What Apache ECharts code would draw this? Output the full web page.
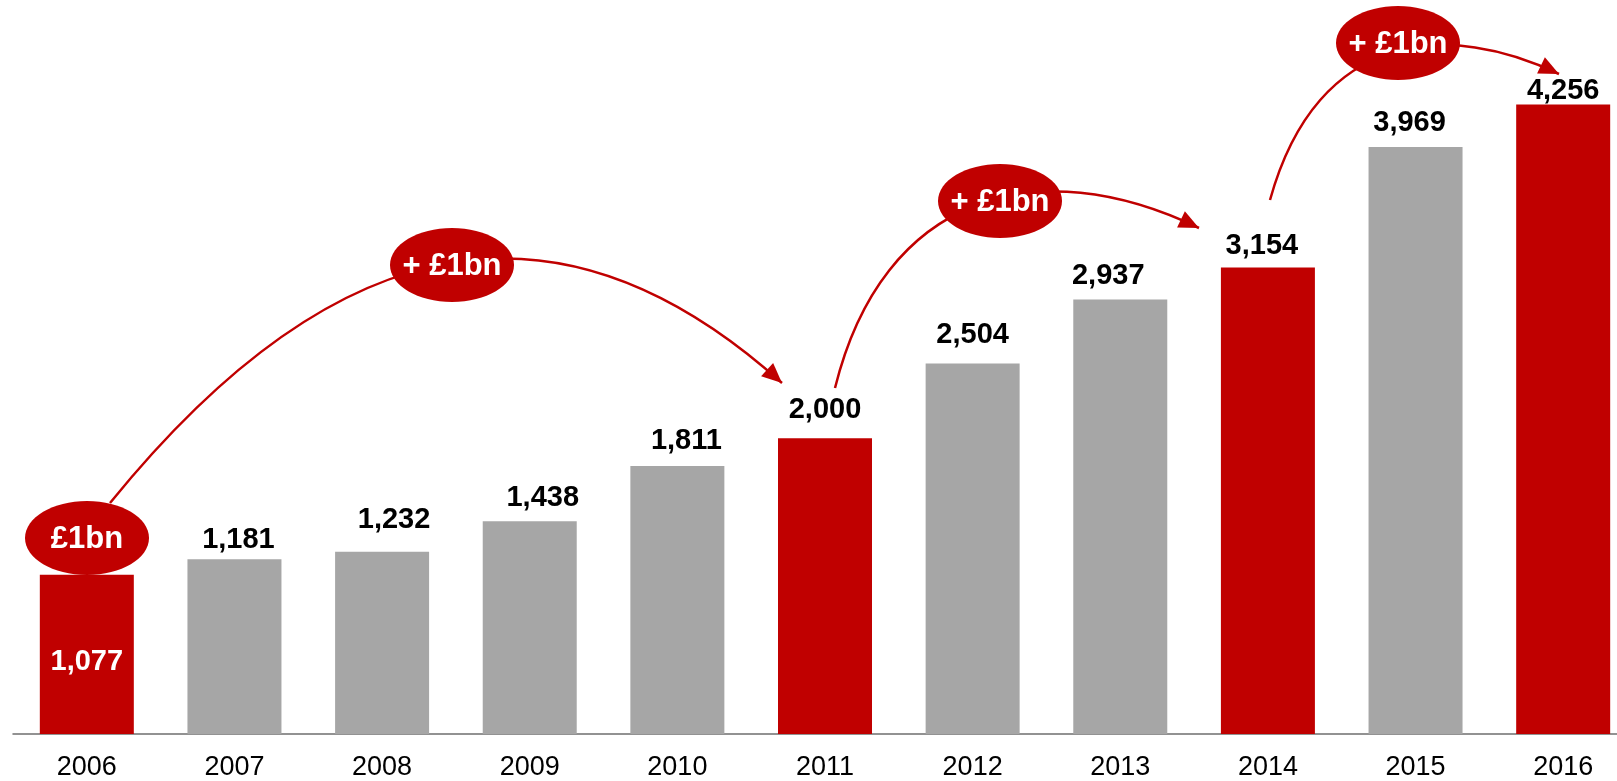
<!DOCTYPE html>
<html>
<head>
<meta charset="utf-8">
<title>Growth</title>
<script src="https://cdn.jsdelivr.net/npm/echarts@6/dist/echarts.min.js"></script>
<style>
html, body { margin: 0; padding: 0; background: #fff; overflow: hidden; }
#bar { width: 1640px; height: 781px; }
</style>
</head>
<body>
<div id="bar"></div>
<script>
// years on the axis
var years = ['2006', '2007', '2008', '2009', '2010', '2011', '2012', '2013', '2014', '2015', '2016'];
// values per year
var values = [1077, 1181, 1232, 1438, 1811, 2000, 2504, 2937, 3154, 3969, 4256];
// milestone years are red
var milestone = [true, false, false, false, false, true, false, false, true, false, true];
// small nudges of the value labels, as on the slide
var labelShift = [[0, 8], [4, 4], [12, -8], [13, 0], [9, -2], [0, -5], [0, -5], [-12, 0], [-6, 2], [-6, 0], [0, 10]];

var RED = '#c00000';
var GREY = '#a6a6a6';
var FONT = '"Liberation Sans", Arial, sans-serif';

var barData = [];
for (var i = 0; i < values.length; i++) {
	var item = {
		value: values[i],
		itemStyle: { color: milestone[i] ? RED : GREY },
		label: { offset: labelShift[i] }
	};
	if (i == 0) {
		item.label.position = 'inside';
		item.label.color = '#fff';
	}
	barData.push(item);
}

// arrow head at the end of a curve
function arrowHead(x, y, fromX, fromY) {
	var dx = x - fromX, dy = y - fromY;
	var len = Math.sqrt(dx * dx + dy * dy);
	var ux = dx / len, uy = dy / len;
	var l = 20, w = 9;
	var bx = x - ux * l, by = y - uy * l;
	return {
		type: 'polygon',
		shape: { points: [[x, y], [bx - uy * w, by + ux * w], [bx + uy * w, by - ux * w]] },
		style: { fill: RED }
	};
}

function curve(p0, p1, p2, p3) {
	return [{
		type: 'bezierCurve',
		shape: { x1: p0[0], y1: p0[1], cpx1: p1[0], cpy1: p1[1], cpx2: p2[0], cpy2: p2[1], x2: p3[0], y2: p3[1] },
		style: { stroke: RED, lineWidth: 2.5, fill: null }
	}, arrowHead(p3[0], p3[1], p2[0], p2[1])];
}

function bubble(cx, cy, text) {
	return [{
		type: 'ellipse',
		shape: { cx: cx, cy: cy, rx: 62, ry: 37 },
		style: { fill: RED },
		z: 10
	}, {
		type: 'text',
		z: 11,
		x: cx,
		y: cy + 1,
		style: {
			text: text,
			fill: '#fff',
			font: 'bold 31px ' + FONT,
			align: 'center',
			verticalAlign: 'middle',
			textAlign: 'center',
			textVerticalAlign: 'middle'
		}
	}];
}

var graphics = []
	.concat(curve([110, 503], [343, 216], [566, 189], [782, 383]))
	.concat(curve([835, 388], [883, 194], [1037, 150], [1199, 228]))
	.concat(curve([1270, 200], [1318, 27], [1451, 22], [1559, 74]))
	.concat(bubble(87, 538, '£1bn'))
	.concat(bubble(452, 265, '+ £1bn'))
	.concat(bubble(1000, 201, '+ £1bn'))
	.concat(bubble(1398, 43, '+ £1bn'));

var myChart = echarts.init(document.getElementById('bar'));
option = {
	animation: false,
	textStyle: { fontFamily: FONT },
	grid: { left: 13, top: 24, width: 1624, height: 711.7 },
	xAxis: {
		type: 'category',
		data: years,
		axisTick: { show: false },
		axisLine: { lineStyle: { color: '#6f6f6f', width: 1.5 } },
		axisLabel: { color: '#000', fontSize: 27, margin: 20, fontFamily: FONT }
	},
	yAxis: {
		type: 'value',
		min: 0,
		max: 4800,
		show: false,
		splitLine: { show: false }
	},
	series: [{
		type: 'bar',
		barWidth: 94,
		data: barData,
		label: {
			show: true,
			position: 'top',
			distance: 9,
			color: '#000',
			fontSize: 29,
			lineHeight: 29,
			fontWeight: 'bold',
			fontFamily: FONT,
			formatter: function (p) {
				return p.value.toLocaleString('en-US');
			}
		}
	}],
	graphic: graphics
};

myChart.setOption(option);
</script>
</body>
</html>
